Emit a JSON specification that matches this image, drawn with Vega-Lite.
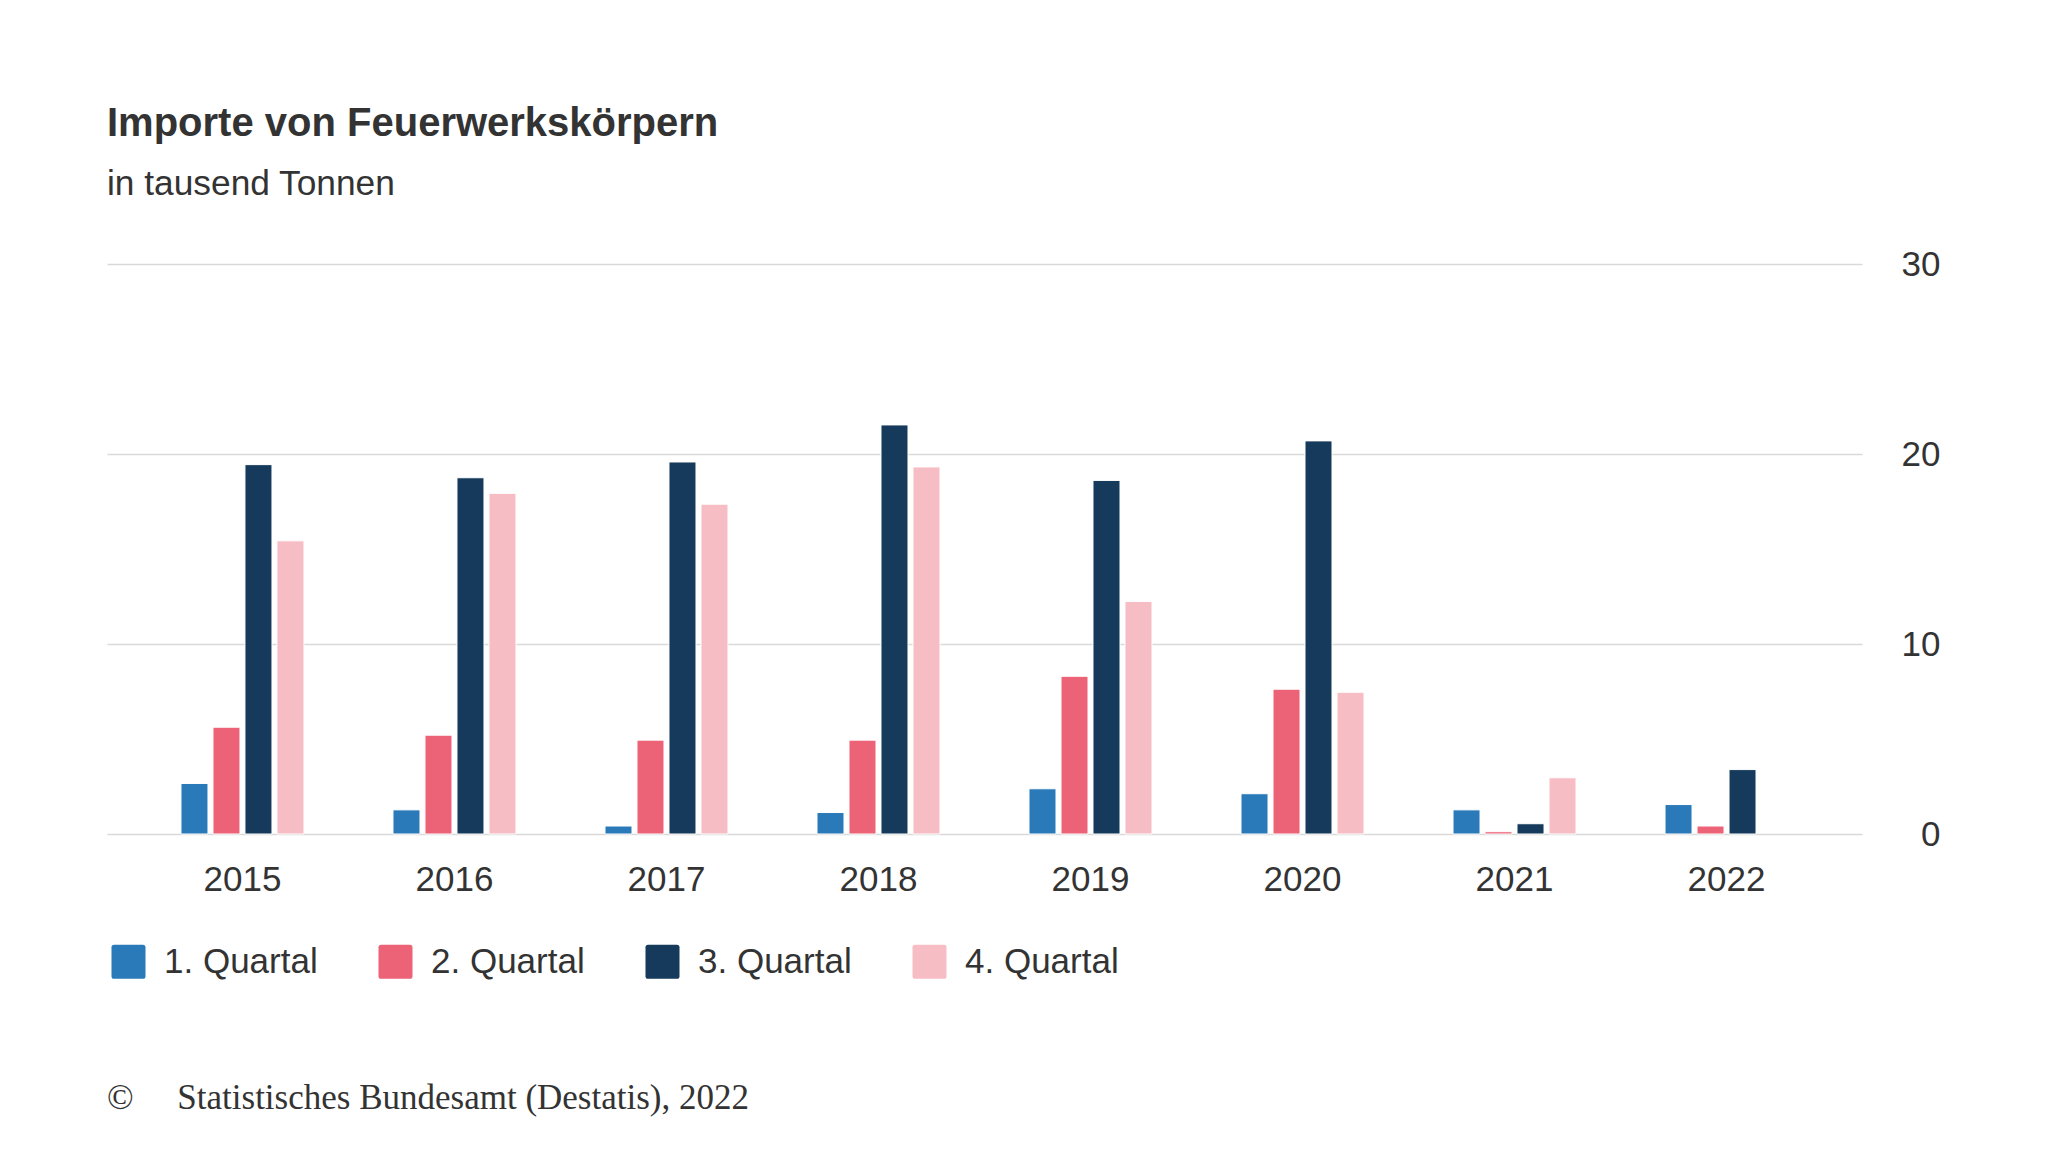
{
  "$schema": "https://vega.github.io/schema/vega-lite/v6.json",
  "background": "white",
  "padding": {"left": 107, "top": 104, "right": 108, "bottom": 20},
  "title": {
    "text": "Importe von Feuerwerkskörpern",
    "subtitle": "in tausend Tonnen",
    "anchor": "start",
    "font": "Liberation Sans",
    "fontSize": 40,
    "fontWeight": "bold",
    "color": "#333333",
    "subtitleFont": "Liberation Sans",
    "subtitleFontSize": 35.3,
    "subtitleColor": "#333333",
    "subtitlePadding": 23.3,
    "offset": 44.4,
    "baseline": "top"
  },
  "resolve": {"legend": {"color": "independent"}},
  "vconcat": [
    {
      "width": 1755,
      "height": 570,
      "title": {
        "text": "©\u00a0\u00a0\u00a0\u00a0\u00a0Statistisches Bundesamt (Destatis), 2022",
        "orient": "bottom",
        "anchor": "start",
        "font": "Liberation Serif",
        "fontSize": 35,
        "fontWeight": "normal",
        "color": "#333333",
        "offset": 97,
        "baseline": "top"
      },
      "data": {
        "values": [
          {"Jahr": "2015", "Quartal": "1. Quartal", "Wert": 2.66},
          {"Jahr": "2015", "Quartal": "2. Quartal", "Wert": 5.62},
          {"Jahr": "2015", "Quartal": "3. Quartal", "Wert": 19.44},
          {"Jahr": "2015", "Quartal": "4. Quartal", "Wert": 15.43},
          {"Jahr": "2016", "Quartal": "1. Quartal", "Wert": 1.27},
          {"Jahr": "2016", "Quartal": "2. Quartal", "Wert": 5.2},
          {"Jahr": "2016", "Quartal": "3. Quartal", "Wert": 18.75},
          {"Jahr": "2016", "Quartal": "4. Quartal", "Wert": 17.93},
          {"Jahr": "2017", "Quartal": "1. Quartal", "Wert": 0.42},
          {"Jahr": "2017", "Quartal": "2. Quartal", "Wert": 4.94},
          {"Jahr": "2017", "Quartal": "3. Quartal", "Wert": 19.58},
          {"Jahr": "2017", "Quartal": "4. Quartal", "Wert": 17.36},
          {"Jahr": "2018", "Quartal": "1. Quartal", "Wert": 1.13},
          {"Jahr": "2018", "Quartal": "2. Quartal", "Wert": 4.94},
          {"Jahr": "2018", "Quartal": "3. Quartal", "Wert": 21.53},
          {"Jahr": "2018", "Quartal": "4. Quartal", "Wert": 19.32},
          {"Jahr": "2019", "Quartal": "1. Quartal", "Wert": 2.38},
          {"Jahr": "2019", "Quartal": "2. Quartal", "Wert": 8.3},
          {"Jahr": "2019", "Quartal": "3. Quartal", "Wert": 18.61},
          {"Jahr": "2019", "Quartal": "4. Quartal", "Wert": 12.24},
          {"Jahr": "2020", "Quartal": "1. Quartal", "Wert": 2.12},
          {"Jahr": "2020", "Quartal": "2. Quartal", "Wert": 7.62},
          {"Jahr": "2020", "Quartal": "3. Quartal", "Wert": 20.69},
          {"Jahr": "2020", "Quartal": "4. Quartal", "Wert": 7.46},
          {"Jahr": "2021", "Quartal": "1. Quartal", "Wert": 1.27},
          {"Jahr": "2021", "Quartal": "2. Quartal", "Wert": 0.12},
          {"Jahr": "2021", "Quartal": "3. Quartal", "Wert": 0.54},
          {"Jahr": "2021", "Quartal": "4. Quartal", "Wert": 2.96},
          {"Jahr": "2022", "Quartal": "1. Quartal", "Wert": 1.55},
          {"Jahr": "2022", "Quartal": "2. Quartal", "Wert": 0.42},
          {"Jahr": "2022", "Quartal": "3. Quartal", "Wert": 3.39}
        ]
      },
      "mark": {"type": "bar", "stroke": "white", "strokeWidth": 1},
      "encoding": {
        "x": {
          "field": "Jahr",
          "type": "nominal",
          "scale": {"domain": ["2015","2016","2017","2018","2019","2020","2021","2022"], "paddingInner": 0.118, "paddingOuter": 0.198},
          "axis": {
            "title": null,
            "labelAngle": 0,
            "domain": false,
            "ticks": false,
            "tickSize": 0,
            "grid": false,
            "labelPadding": 28,
            "labelFont": "Liberation Sans",
            "labelFontSize": 35,
            "labelColor": "#333333"
          }
        },
        "xOffset": {
          "field": "Quartal",
          "type": "nominal",
          "scale": {"domain": ["1. Quartal","2. Quartal","3. Quartal","4. Quartal"], "paddingInner": 0.156, "paddingOuter": 1}
        },
        "y": {
          "field": "Wert",
          "type": "quantitative",
          "scale": {"domain": [0, 30], "nice": false},
          "axis": {
            "orient": "right",
            "title": null,
            "values": [0, 10, 20, 30],
            "domain": false,
            "ticks": false,
            "tickSize": 0,
            "labelPadding": 78,
            "labelAlign": "right",
            "labelBaseline": "middle",
            "labelFont": "Liberation Sans",
            "labelFontSize": 35,
            "labelColor": "#333333",
            "gridColor": "#d9d9d9",
            "gridWidth": 1.5
          }
        },
        "color": {
          "field": "Quartal",
          "type": "nominal",
          "scale": {
            "domain": ["1. Quartal","2. Quartal","3. Quartal","4. Quartal"],
            "range": ["#2a7ab9","#ec6276","#153a5b","#f7bdc4"]
          },
          "legend": {
            "title": null,
            "orient": "bottom",
            "direction": "horizontal",
            "symbolType": "M-0.85,-1H0.85Q1,-1,1,-0.85V0.85Q1,1,0.85,1H-0.85Q-1,1,-1,0.85V-0.85Q-1,-1,-0.85,-1Z",
            "symbolSize": 1156,
            "symbolStrokeWidth": 0,
            "symbolOpacity": 1,
            "labelFont": "Liberation Sans",
            "labelFontSize": 35,
            "labelColor": "#333333",
            "labelOffset": 18,
            "labelLimit": 400,
            "columnPadding": 60,
            "padding": 4,
            "offset": 42.6
          }
        }
      }
    }
  ],
  "config": {"view": {"stroke": null}}
}
